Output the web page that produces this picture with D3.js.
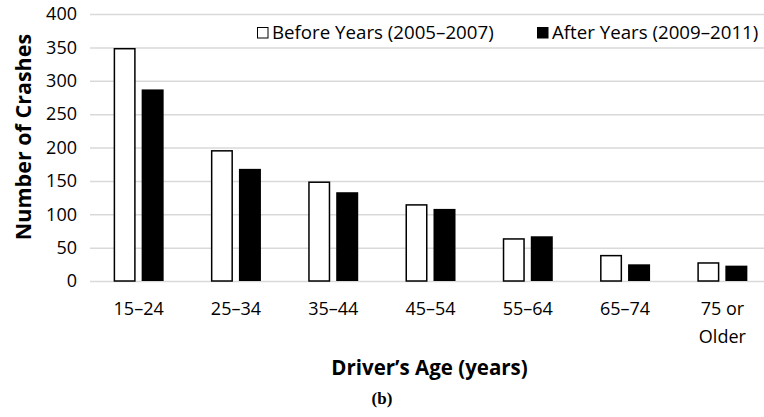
<!DOCTYPE html>
<html>
<head>
<meta charset="utf-8">
<script src="https://cdn.jsdelivr.net/npm/d3@7"></script>
<style>
  body { margin: 0; background: #fff; }
  svg { display: block; }
  .tick text { font-family: "Open Sans", sans-serif; fill: #000; }
</style>
</head>
<body>
<div id="chart"></div>
<script>
// data
var ages = ["15–24", "25–34", "35–44", "45–54", "55–64", "65–74", "75 or Older"];
var before = [348, 195, 148, 114, 63, 38, 27];
var after = [287, 168, 133, 108, 67, 25, 23];
var seriesNames = ["Before Years (2005–2007)", "After Years (2009–2011)"];
var yTicks = [0, 50, 100, 150, 200, 250, 300, 350, 400];

var width = 764, height = 417;
var plotLeft = 90, plotRight = 771, plotTop = 14, plotBottom = 281;

var rows = ages.map(function(a, i) {
  return { age: a, values: [ { key: 0, v: before[i] }, { key: 1, v: after[i] } ] };
});

/* Scales */
var x0 = d3.scaleBand()
  .domain(ages)
  .range([plotLeft, plotRight])
  .paddingInner(0.486)
  .paddingOuter(0.243);

var x1 = d3.scaleBand()
  .domain([0, 1])
  .range([0, x0.bandwidth()])
  .paddingInner(0.214);

var y = d3.scaleLinear()
  .domain([0, 400])
  .range([plotBottom, plotTop]);

var svg = d3.select("#chart").append("svg")
  .attr("width", width)
  .attr("height", height);

/* Y axis + gridlines */
var yAxis = d3.axisLeft(y)
  .tickValues(yTicks)
  .tickSize(-(width - plotLeft))
  .tickPadding(13);

svg.append("g")
  .attr("class", "y axis")
  .attr("transform", `translate(${plotLeft}, 0)`)
  .call(yAxis)
  .call(g => g.select(".domain").remove())
  .call(g => g.selectAll("line").attr("stroke", "#d9d9d9").attr("stroke-width", 1.5))
  .call(g => g.selectAll("text").style("font-size", "18px"));

/* bars */
var groups = svg.append("g").attr("class", "bars")
  .selectAll("g")
  .data(rows).enter()
  .append("g")
  .attr("transform", d => `translate(${x0(d.age)}, 0)`);

groups.selectAll("rect")
  .data(d => d.values).enter()
  .append("rect")
  .attr("x", d => x1(d.key) + (d.key === 0 ? 0.75 : 0))
  .attr("y", d => y(d.v))
  .attr("width", d => x1.bandwidth() - (d.key === 0 ? 1.5 : 0))
  .attr("height", d => y(0) - y(d.v))
  .attr("fill", d => d.key === 0 ? "#fff" : "#000")
  .attr("stroke", d => d.key === 0 ? "#000" : "none")
  .attr("stroke-width", 1.5);

/* X axis */
var xAxis = d3.axisBottom(x0).tickSize(0).tickPadding(21);

svg.append("g")
  .attr("class", "x axis")
  .attr("transform", `translate(0, ${plotBottom})`)
  .call(xAxis)
  .call(g => g.select(".domain").remove())
  .call(g => g.selectAll("text")
    .style("font-size", "18px")
    .each(function(d) {
      var t = d3.select(this);
      if (d === "75 or Older") {
        t.text(null);
        t.append("tspan").attr("x", 0).text("75 or");
        t.append("tspan").attr("x", 0).attr("dy", "1.55em").text("Older");
      }
    }));

/* axis titles */
svg.append("text")
  .attr("transform", "translate(31, 137) rotate(-90)")
  .attr("text-anchor", "middle")
  .style("font-family", "Open Sans, sans-serif")
  .style("font-weight", "bold")
  .style("font-size", "21.5px")
  .text("Number of Crashes");

svg.append("text")
  .attr("x", (plotLeft + plotRight) / 2 - 1)
  .attr("y", 375)
  .attr("text-anchor", "middle")
  .style("font-family", "Open Sans, sans-serif")
  .style("font-weight", "bold")
  .style("font-size", "20.5px")
  .text("Driver’s Age (years)");

svg.append("text")
  .attr("x", 382)
  .attr("y", 404)
  .attr("text-anchor", "middle")
  .style("font-family", "Liberation Serif, serif")
  .style("font-weight", "bold")
  .style("font-size", "17px")
  .text("(b)");

/* legend */
var legendX = [257, 537];
var legend = svg.append("g").attr("class", "legend")
  .selectAll("g")
  .data(seriesNames).enter()
  .append("g")
  .attr("transform", (d, i) => `translate(${legendX[i]}, 27)`);

legend.append("rect")
  .attr("x", 0.5).attr("y", 0.5)
  .attr("width", 10.5).attr("height", 10.5)
  .attr("fill", (d, i) => i === 0 ? "#fff" : "#000")
  .attr("stroke", "#000")
  .attr("stroke-width", 1);

legend.append("text")
  .attr("x", 15)
  .attr("y", 11.5)
  .style("font-family", "Open Sans, sans-serif")
  .style("font-size", "18.7px")
  .text(d => d);
</script>
</body>
</html>
